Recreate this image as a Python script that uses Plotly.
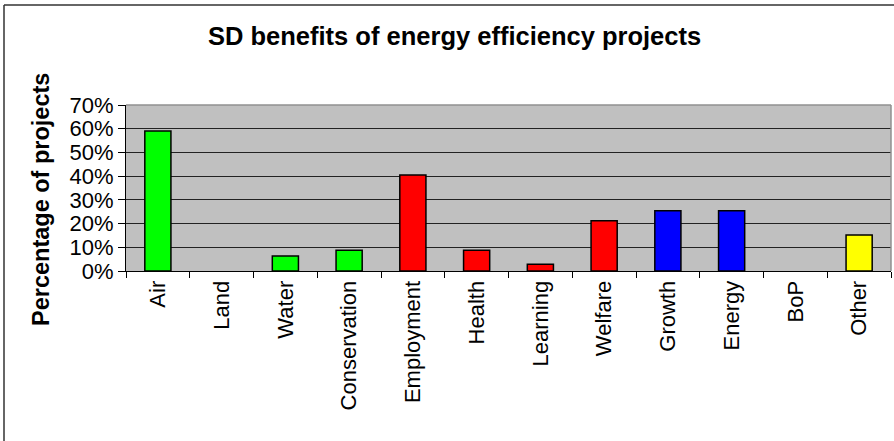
import plotly.graph_objects as go

categories = ["Air", "Land", "Water", "Conservation", "Employment", "Health",
              "Learning", "Welfare", "Growth", "Energy", "BoP", "Other"]
values = [0.59, 0.0, 0.063, 0.088, 0.405, 0.088, 0.028, 0.212, 0.254, 0.254, 0.0, 0.152]
bar_colors = ["#00FF00", "#00FF00", "#00FF00", "#00FF00",
              "#FF0000", "#FF0000", "#FF0000", "#FF0000",
              "#0000FF", "#0000FF", "#0000FF", "#FFFF00"]
y_ticks = [0.0, 0.1, 0.2, 0.3, 0.4, 0.5, 0.6, 0.7]
title_text = "SD benefits of energy efficiency projects"
y_title = "Percentage of projects"

FONT = "Liberation Sans, Arial, sans-serif"
W, H = 894, 441
L, R, T, B = 126, 3, 105, 170
pw, ph = W - L - R, H - T - B

def px_x(p):
    return (p - L) / pw

def px_y(p):
    return (H - B - p) / ph

line_widths = [1.5 if v > 0 else 0 for v in values]

fig = go.Figure(go.Bar(
    x=categories, y=values,
    marker=dict(color=bar_colors, line=dict(color="black", width=line_widths)),
    width=0.41,
))

fig.update_layout(
    width=W, height=H,
    margin=dict(l=L, r=R, t=T, b=B, pad=0),
    paper_bgcolor="white",
    plot_bgcolor="#C0C0C0",
    showlegend=False,
    font=dict(family=FONT, color="black"),
    xaxis=dict(
        type="category",
        tickson="boundaries",
        ticks="outside", ticklen=6, tickcolor="black", tickwidth=1,
        tickangle=-90,
        tickfont=dict(family=FONT, size=22, color="black"),
        showline=True, linecolor="black", linewidth=1,
        showgrid=False, zeroline=False,
    ),
    yaxis=dict(
        range=[0, 0.7],
        tickvals=y_ticks, tickformat=".0%",
        ticks="outside", ticklen=7, tickcolor="black", tickwidth=1,
        tickfont=dict(family=FONT, size=22, color="black"),
        showline=True, linecolor="black", linewidth=1,
        showgrid=True, gridcolor="#222222", gridwidth=1,
        zeroline=False,
    ),
    shapes=[
        dict(type="line", xref="paper", yref="paper", x0=0, x1=1, y0=1, y1=1,
             line=dict(color="#909090", width=1.5)),
        dict(type="line", xref="paper", yref="paper", x0=1, x1=1, y0=0, y1=1,
             line=dict(color="#909090", width=1.5)),
        dict(type="line", xref="paper", yref="paper",
             x0=px_x(4), x1=px_x(4), y0=px_y(5), y1=px_y(445),
             line=dict(color="#333333", width=1.5)),
        dict(type="line", xref="paper", yref="paper",
             x0=px_x(4), x1=px_x(900), y0=px_y(5), y1=px_y(5),
             line=dict(color="#333333", width=1.5)),
    ],
    annotations=[
        dict(text="<b>" + title_text + "</b>", xref="paper", yref="paper",
             x=px_x(454), y=px_y(36), xanchor="center", yanchor="middle",
             showarrow=False, font=dict(family=FONT, size=25.5, color="black")),
        dict(text="<b>" + y_title + "</b>", xref="paper", yref="paper",
             x=px_x(41), y=px_y(200), xanchor="center", yanchor="middle",
             textangle=-90, showarrow=False,
             font=dict(family=FONT, size=23.5, color="black")),
    ],
)

fig.write_html("out.html")
